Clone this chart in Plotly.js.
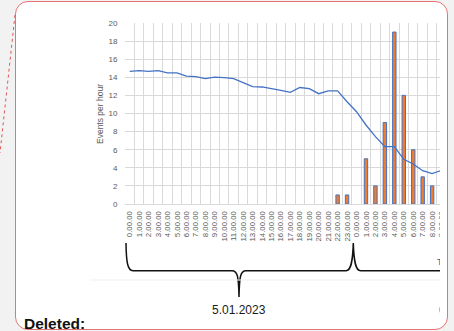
<!DOCTYPE html>
<html>
<head>
<meta charset="utf-8">
<script src="https://cdn.plot.ly/plotly-3.0.1.min.js"></script>
<style>
  html, body { margin:0; padding:0; }
  body { width:454px; height:331px; overflow:hidden; position:relative; background:#f2f2f2; }
  #frame { position:absolute; left:15px; top:1px; width:433px; height:329px; box-sizing:border-box;
           border:1.5px solid #e57373; border-radius:13px; background:#ffffff; }
  #clip { position:absolute; left:0; top:0; width:440px; height:331px; overflow:hidden; }
  #chart { width:600px; height:331px; }
</style>
</head>
<body>
<div id="frame"></div>
<div id="clip"><div id="chart"></div></div>
<script>
// ---- data ----
const day1Labels = ["0.00.00","1.00.00","2.00.00","3.00.00","4.00.00","5.00.00","6.00.00","7.00.00",
  "8.00.00","9.00.00","10.00.00","11.00.00","12.00.00","13.00.00","14.00.00","15.00.00",
  "16.00.00","17.00.00","18.00.00","19.00.00","20.00.00","21.00.00","22.00.00","23.00.00"];
const day2Labels = ["0.00.00","1.00.00","2.00.00","3.00.00","4.00.00","5.00.00","6.00.00","7.00.00",
  "8.00.00","9.00.00"];
const eventsPerHour = [0,0,0,0,0,0,0,0,0,0,0,0,0,0,0,0,0,0,0,0,0,0,1,1,
  0,5,2,9,19,12,6,3,2,null];
const trendLine = [14.66,14.73,14.66,14.73,14.48,14.48,14.14,14.07,13.85,14.03,13.96,13.85,
  13.41,12.97,12.93,12.77,12.56,12.34,12.87,12.75,12.19,12.5,12.5,11.3,
  10.2,8.73,7.44,6.33,6.33,4.94,4.42,3.68,3.35,3.72];
const yAxisTitle = "Events per hour";
const xAxisTitle = "Time";
const dateLabels = ["5.01.2023","6.01.2023"];
const frameLabel = "Deleted:";

// ---- build ----
const tickLabels = day1Labels.concat(day2Labels);
const positions = tickLabels.map((_, i) => i);
const boundaries = positions.map(i => i - 0.5).concat([tickLabels.length - 0.5]);
// zero-valued hours draw no bar (as in the reference)
const barValues = eventsPerHour.map(v => (v === 0 ? null : v));

const W = 600, H = 331;
const X = px => px / W;
const Y = py => 1 - py / H;
const P = (x, y) => X(x) + "," + Y(y);

const FONT = "Liberation Sans, Arial, sans-serif";
const GRAY = "#595959";
const GRID = "#d9d9d9";

const traces = [
  {
    type: "bar", x: positions, y: barValues, width: 0.36,
    marker: { color: "#ED7D31", line: { color: "#4472C4", width: 1 } },
    hoverinfo: "skip"
  },
  {
    type: "scatter", mode: "lines", x: positions, y: trendLine,
    line: { color: "#4472C4", width: 1.3 },
    hoverinfo: "skip"
  }
];

const bracePath = "M " + P(126,243) + " C " + P(126.3,262) + " " + P(127.5,270.7) + " " + P(133,270.7) +
  " L " + P(232,270.7) + " C " + P(237.5,270.7) + " " + P(238.6,276) + " " + P(239,297) +
  " C " + P(239.4,276) + " " + P(240.5,270.7) + " " + P(246,270.7) +
  " L " + P(346,270.7) + " C " + P(351,270.7) + " " + P(352.7,262) + " " + P(353.3,243) +
  " C " + P(353.9,262) + " " + P(355.6,270.7) + " " + P(360.6,270.7) +
  " L " + P(600,270.7);

const layout = {
  width: W, height: H,
  margin: { l: 0, r: 0, t: 0, b: 0, pad: 0 },
  paper_bgcolor: "rgba(0,0,0,0)", plot_bgcolor: "rgba(0,0,0,0)",
  showlegend: false,
  bargap: 0,
  font: { family: FONT, color: GRAY },
  xaxis: {
    type: "linear", domain: [125 / W, (125 + 36 * 9.45) / W], range: [-0.5, 35.5],
    tickmode: "array", tickvals: positions, ticktext: tickLabels, tickangle: -90,
    tickfont: { size: 7.8, color: GRAY, family: FONT },
    ticks: "outside", ticklen: 3, tickcolor: "rgba(0,0,0,0)",
    showgrid: false, zeroline: false, showline: true, linecolor: GRID, linewidth: 1,
    minor: { tickmode: "array", tickvals: boundaries, showgrid: true, gridcolor: GRID, gridwidth: 1, ticks: "" },
    automargin: false, fixedrange: true
  },
  yaxis: {
    domain: [Y(204), Y(23)], range: [0, 20], dtick: 2, tick0: 0,
    tickfont: { size: 8, color: GRAY, family: FONT },
    ticks: "outside", ticklen: 5, tickcolor: "rgba(0,0,0,0)",
    showgrid: true, gridcolor: GRID, gridwidth: 1, zeroline: false, showline: false,
    automargin: false, fixedrange: true
  },
  shapes: [
    { type: "path", xref: "paper", yref: "paper", path: bracePath, line: { color: "#111111", width: 1.5 } },
    { type: "line", xref: "paper", yref: "paper", x0: X(15), y0: Y(15), x1: X(0), y1: Y(153),
      line: { color: "#e05555", width: 1, dash: "dot" } },
    { type: "line", xref: "paper", yref: "paper", x0: X(90), y0: Y(280), x1: X(600), y1: Y(280),
      line: { color: "#efefef", width: 1 } }
  ],
  annotations: [
    { xref: "paper", yref: "paper", x: X(100), y: Y(114), text: yAxisTitle, textangle: -90,
      showarrow: false, xanchor: "center", yanchor: "middle", font: { size: 8.5, color: GRAY, family: FONT } },
    { xref: "paper", yref: "paper", x: X(435), y: Y(262), text: xAxisTitle,
      showarrow: false, xanchor: "left", yanchor: "middle", font: { size: 8.5, color: GRAY, family: FONT } },
    { xref: "paper", yref: "paper", x: X(238.5), y: Y(310), text: dateLabels[0],
      showarrow: false, xanchor: "center", yanchor: "middle", font: { size: 12, color: "#1a1a1a", family: FONT } },
    { xref: "paper", yref: "paper", x: X(436.5), y: Y(310), text: dateLabels[1],
      showarrow: false, xanchor: "left", yanchor: "middle", font: { size: 12, color: "#1a1a1a", family: FONT } },
    { xref: "paper", yref: "paper", x: X(22), y: Y(323), text: "<b>" + frameLabel + "</b>",
      showarrow: false, xanchor: "left", yanchor: "middle", font: { size: 15.5, color: "#111111", family: FONT } }
  ]
};

Plotly.newPlot("chart", traces, layout, { staticPlot: true, displayModeBar: false });
</script>
</body>
</html>
